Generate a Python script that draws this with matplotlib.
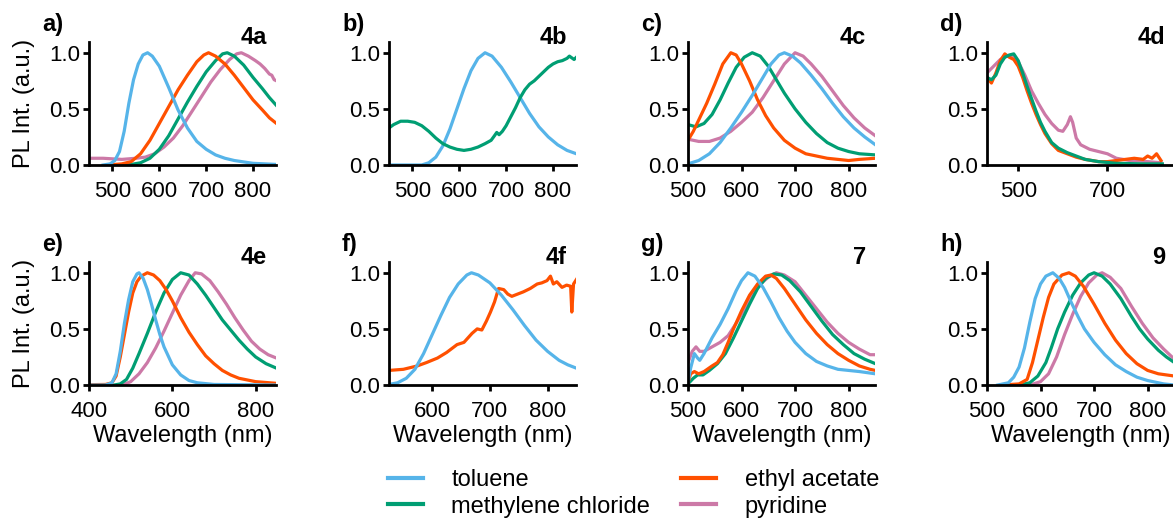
"""
PL spectra of the dyes in four solvents, panels a-h
"""

import numpy as np
import matplotlib.pyplot as plt
from matplotlib.lines import Line2D

plt.rcParams['font.family'] = ['Liberation Sans', 'DejaVu Sans']

# solvents and colours
solvents = ['toluene', 'methylene chloride', 'ethyl acetate', 'pyridine']
colors = ['#56B4E9', '#009E73', '#FF5000', '#CC79A7']

# panel letters, compound tags and x limits
letters = ['a)', 'b)', 'c)', 'd)', 'e)', 'f)', 'g)', 'h)']
tags = ['4a', '4b', '4c', '4d', '4e', '4f', '7', '9']
xlims = [(450, 850), (450, 850), (500, 850), (430, 850),
         (400, 850), (525, 850), (500, 850), (500, 850)]
xticks = [[500, 600, 700, 800], [500, 600, 700, 800], [500, 600, 700, 800], [500, 700],
          [400, 600, 800], [600, 700, 800], [500, 600, 700, 800], [500, 600, 700, 800]]

# ---- spectra: (wavelength nm, normalised PL) ----
# a) 4a
a_tol = [(480, 0.0), (495, 0.01), (505, 0.04), (515, 0.12), (525, 0.3), (535, 0.55), (545, 0.76),
         (555, 0.9), (565, 0.98), (575, 1.0), (585, 0.97), (600, 0.88), (620, 0.69), (640, 0.49),
         (660, 0.33), (680, 0.21), (700, 0.14), (720, 0.09), (740, 0.06), (760, 0.04), (800, 0.015),
         (850, 0.005)]
a_dcm = [(490, 0.0), (540, 0.005), (560, 0.02), (580, 0.06), (600, 0.14), (620, 0.26), (640, 0.41),
         (660, 0.56), (680, 0.7), (700, 0.83), (720, 0.93), (735, 0.99), (745, 1.0), (760, 0.97),
         (780, 0.89), (800, 0.78), (820, 0.68), (835, 0.6), (850, 0.53)]
a_eth = [(490, 0.0), (520, 0.01), (540, 0.03), (560, 0.1), (580, 0.22), (600, 0.37), (620, 0.52),
         (640, 0.67), (660, 0.8), (680, 0.92), (695, 0.98), (705, 1.0), (720, 0.97), (740, 0.9),
         (760, 0.8), (780, 0.69), (800, 0.58), (820, 0.49), (835, 0.42), (850, 0.37)]
a_pyr = [(450, 0.06), (480, 0.06), (520, 0.05), (550, 0.06), (570, 0.07), (590, 0.1), (610, 0.16),
         (630, 0.24), (650, 0.35), (670, 0.48), (690, 0.61), (710, 0.74), (730, 0.85), (750, 0.94),
         (765, 0.99), (775, 1.0), (790, 0.97), (805, 0.93), (815, 0.9), (825, 0.86), (835, 0.81),
         (840, 0.8), (845, 0.76), (850, 0.75)]

# b) 4b
b_tol = [(450, 0.0), (520, 0.0), (535, 0.02), (550, 0.07), (565, 0.17), (580, 0.32), (595, 0.5),
         (610, 0.68), (625, 0.84), (640, 0.95), (655, 1.0), (670, 0.97), (690, 0.87), (710, 0.74),
         (730, 0.6), (750, 0.46), (770, 0.34), (790, 0.25), (810, 0.18), (830, 0.13), (850, 0.1)]
b_dcm = [(450, 0.33), (460, 0.36), (475, 0.39), (490, 0.39), (505, 0.38), (520, 0.35), (535, 0.3),
         (550, 0.24), (565, 0.19), (580, 0.16), (595, 0.14), (610, 0.13), (625, 0.14), (640, 0.16),
         (655, 0.19), (668, 0.22), (675, 0.26), (680, 0.29), (685, 0.27), (692, 0.3), (700, 0.35),
         (710, 0.43), (720, 0.51), (730, 0.6), (740, 0.67), (750, 0.72), (760, 0.75), (770, 0.79),
         (780, 0.83), (790, 0.87), (800, 0.9), (810, 0.92), (820, 0.93), (830, 0.95), (835, 0.97),
         (845, 0.94), (850, 0.96)]

# c) 4c
c_tol = [(500, 0.01), (520, 0.04), (540, 0.1), (560, 0.2), (580, 0.33), (600, 0.47), (620, 0.62),
         (640, 0.78), (655, 0.9), (670, 0.98), (680, 1.0), (695, 0.97), (710, 0.91), (730, 0.8),
         (750, 0.68), (770, 0.55), (790, 0.43), (810, 0.33), (830, 0.25), (850, 0.18)]
c_dcm = [(500, 0.36), (515, 0.34), (530, 0.37), (545, 0.45), (560, 0.58), (575, 0.73), (590, 0.87),
         (605, 0.96), (620, 1.0), (635, 0.97), (650, 0.88), (665, 0.76), (680, 0.64), (700, 0.5),
         (720, 0.38), (740, 0.28), (760, 0.2), (780, 0.15), (800, 0.12), (820, 0.1), (850, 0.09)]
c_eth = [(500, 0.22), (510, 0.3), (520, 0.4), (535, 0.55), (550, 0.72), (565, 0.9), (580, 1.0),
         (590, 0.98), (600, 0.9), (615, 0.75), (630, 0.58), (645, 0.44), (660, 0.33), (680, 0.22),
         (700, 0.15), (720, 0.1), (740, 0.08), (760, 0.06), (780, 0.05), (800, 0.04), (820, 0.05),
         (850, 0.06)]
c_pyr = [(500, 0.23), (520, 0.21), (540, 0.21), (560, 0.24), (580, 0.3), (600, 0.38), (620, 0.47),
         (640, 0.6), (660, 0.75), (680, 0.9), (700, 1.0), (715, 0.97), (730, 0.9), (750, 0.79),
         (770, 0.66), (790, 0.53), (810, 0.42), (830, 0.33), (850, 0.26)]

# d) 4d
d_dcm = [(430, 0.78), (440, 0.76), (450, 0.8), (460, 0.9), (470, 0.96), (480, 0.98), (490, 0.99),
         (500, 0.93), (510, 0.82), (520, 0.7), (530, 0.59), (540, 0.48), (550, 0.38), (560, 0.3),
         (575, 0.2), (590, 0.15), (610, 0.11), (630, 0.08), (650, 0.05), (680, 0.03), (720, 0.015),
         (780, 0.01), (823, 0.01)]
d_eth = [(430, 0.78), (440, 0.73), (450, 0.82), (460, 0.93), (470, 0.99), (480, 0.96), (490, 0.94),
         (500, 0.88), (510, 0.78), (520, 0.66), (530, 0.55), (540, 0.45), (550, 0.36), (560, 0.28),
         (575, 0.19), (590, 0.13), (610, 0.1), (630, 0.07), (650, 0.05), (680, 0.03), (700, 0.03),
         (720, 0.04), (740, 0.05), (760, 0.06), (780, 0.05), (790, 0.08), (800, 0.06), (810, 0.1),
         (820, 0.04)]
d_pyr = [(430, 0.82), (445, 0.88), (460, 0.94), (475, 0.97), (490, 0.97), (500, 0.92), (515, 0.8),
         (530, 0.66), (545, 0.55), (560, 0.45), (575, 0.37), (590, 0.31), (600, 0.3), (610, 0.36),
         (617, 0.43), (622, 0.38), (630, 0.24), (640, 0.18), (660, 0.14), (680, 0.12), (700, 0.1),
         (720, 0.06), (750, 0.04), (790, 0.03), (820, 0.02)]

# e) 4e
e_tol = [(400, 0.0), (440, 0.0), (455, 0.02), (465, 0.1), (475, 0.3), (485, 0.55), (495, 0.76),
         (505, 0.92), (515, 0.99), (520, 1.0), (530, 0.95), (540, 0.85), (550, 0.72), (560, 0.58),
         (570, 0.45), (580, 0.34), (600, 0.18), (620, 0.09), (640, 0.04), (660, 0.02), (700, 0.005),
         (850, 0.0)]
e_dcm = [(460, 0.0), (475, 0.01), (490, 0.05), (505, 0.15), (520, 0.28), (540, 0.46), (560, 0.65),
         (580, 0.82), (600, 0.94), (620, 1.0), (640, 0.98), (660, 0.9), (680, 0.8), (700, 0.69),
         (720, 0.58), (740, 0.49), (760, 0.4), (780, 0.32), (800, 0.25), (825, 0.19), (850, 0.15)]
e_eth = [(400, 0.003), (440, 0.005), (455, 0.02), (465, 0.08), (475, 0.25), (485, 0.45), (495, 0.65),
         (505, 0.82), (515, 0.92), (525, 0.97), (540, 1.0), (555, 0.98), (570, 0.93), (585, 0.85),
         (600, 0.75), (620, 0.6), (640, 0.47), (660, 0.36), (680, 0.26), (700, 0.19), (720, 0.13),
         (740, 0.09), (760, 0.06), (800, 0.03), (850, 0.015)]
e_pyr = [(480, 0.0), (500, 0.03), (520, 0.1), (540, 0.2), (560, 0.33), (580, 0.48), (600, 0.64),
         (620, 0.8), (640, 0.93), (655, 1.0), (670, 0.99), (690, 0.93), (710, 0.83), (730, 0.72),
         (750, 0.6), (770, 0.49), (790, 0.39), (810, 0.32), (830, 0.27), (850, 0.24)]

# f) 4f
f_tol = [(525, 0.005), (540, 0.02), (555, 0.06), (570, 0.14), (585, 0.28), (600, 0.45), (615, 0.62),
         (630, 0.78), (645, 0.9), (660, 0.98), (668, 1.0), (680, 0.98), (700, 0.91), (720, 0.8),
         (740, 0.67), (760, 0.53), (780, 0.4), (800, 0.3), (820, 0.22), (835, 0.18), (850, 0.15)]
f_eth = [(525, 0.13), (550, 0.14), (574, 0.17), (590, 0.2), (609, 0.24), (625, 0.29), (643, 0.36),
         (655, 0.38), (669, 0.46), (678, 0.5), (686, 0.49), (694, 0.57), (701, 0.65), (708, 0.74),
         (715, 0.86), (724, 0.85), (731, 0.81), (738, 0.79), (748, 0.81), (758, 0.83), (770, 0.86),
         (782, 0.9), (790, 0.91), (799, 0.93), (805, 0.97), (810, 0.9), (816, 0.92), (825, 0.87),
         (833, 0.89), (840, 0.88), (842, 0.65), (845, 0.9), (850, 0.94)]

# g) 7
g_tol = [(500, 0.02), (505, 0.15), (512, 0.28), (518, 0.24), (522, 0.22), (530, 0.28), (545, 0.42),
         (560, 0.54), (575, 0.68), (590, 0.84), (600, 0.93), (612, 1.0), (625, 0.97), (640, 0.87),
         (655, 0.74), (670, 0.6), (685, 0.48), (700, 0.38), (720, 0.28), (740, 0.21), (760, 0.17),
         (780, 0.14), (800, 0.13), (820, 0.12), (850, 0.1)]
g_dcm = [(500, 0.01), (510, 0.06), (518, 0.09), (528, 0.09), (540, 0.13), (555, 0.19), (570, 0.28),
         (585, 0.42), (600, 0.57), (615, 0.72), (630, 0.86), (645, 0.95), (660, 0.99), (675, 0.98),
         (690, 0.93), (710, 0.83), (730, 0.7), (750, 0.57), (770, 0.45), (790, 0.36), (810, 0.28),
         (830, 0.23), (850, 0.19)]
g_eth = [(500, 0.02), (505, 0.1), (512, 0.12), (520, 0.1), (530, 0.12), (545, 0.17), (555, 0.2),
         (565, 0.27), (575, 0.38), (585, 0.5), (600, 0.66), (615, 0.8), (630, 0.9), (645, 0.97),
         (655, 0.98), (665, 0.95), (680, 0.86), (700, 0.72), (720, 0.58), (740, 0.46), (760, 0.36),
         (780, 0.28), (800, 0.22), (820, 0.17), (840, 0.14), (850, 0.13)]
g_pyr = [(500, 0.2), (508, 0.3), (515, 0.34), (522, 0.3), (530, 0.3), (545, 0.34), (560, 0.38),
         (575, 0.44), (590, 0.55), (605, 0.67), (620, 0.8), (635, 0.9), (650, 0.96), (665, 1.0),
         (680, 0.98), (700, 0.92), (720, 0.8), (740, 0.68), (760, 0.56), (780, 0.46), (800, 0.38),
         (820, 0.32), (840, 0.27), (850, 0.27)]

# h) 9
h_tol = [(520, 0.0), (540, 0.02), (550, 0.07), (560, 0.16), (570, 0.33), (580, 0.56), (590, 0.77),
         (600, 0.9), (610, 0.97), (623, 1.0), (635, 0.95), (645, 0.87), (657, 0.74), (670, 0.61),
         (682, 0.5), (700, 0.38), (720, 0.27), (740, 0.18), (760, 0.12), (780, 0.07), (800, 0.04),
         (830, 0.01), (850, 0.0)]
h_dcm = [(560, 0.0), (580, 0.02), (595, 0.08), (610, 0.2), (620, 0.33), (632, 0.5), (645, 0.65),
         (660, 0.8), (675, 0.91), (690, 0.98), (700, 1.0), (715, 0.97), (730, 0.9), (750, 0.77),
         (770, 0.61), (785, 0.5), (800, 0.41), (820, 0.31), (835, 0.25), (850, 0.2)]
h_eth = [(530, 0.0), (560, 0.01), (575, 0.05), (585, 0.2), (595, 0.4), (605, 0.6), (615, 0.78),
         (625, 0.9), (640, 0.98), (653, 1.0), (665, 0.97), (680, 0.88), (700, 0.72), (720, 0.55),
         (740, 0.4), (760, 0.28), (780, 0.19), (800, 0.13), (820, 0.1), (850, 0.08)]
h_pyr = [(580, 0.0), (600, 0.03), (615, 0.1), (630, 0.25), (645, 0.45), (660, 0.63), (675, 0.79),
         (690, 0.91), (705, 0.98), (715, 1.0), (730, 0.96), (750, 0.86), (770, 0.7), (790, 0.55),
         (810, 0.42), (830, 0.32), (850, 0.23)]

# curves per panel, in draw order (index into solvents)
panels = [
    [(3, a_pyr), (1, a_dcm), (2, a_eth), (0, a_tol)],
    [(0, b_tol), (1, b_dcm)],
    [(3, c_pyr), (1, c_dcm), (2, c_eth), (0, c_tol)],
    [(3, d_pyr), (2, d_eth), (1, d_dcm)],
    [(3, e_pyr), (1, e_dcm), (2, e_eth), (0, e_tol)],
    [(2, f_eth), (0, f_tol)],
    [(3, g_pyr), (1, g_dcm), (2, g_eth), (0, g_tol)],
    [(3, h_pyr), (1, h_dcm), (2, h_eth), (0, h_tol)],
]

fig = plt.figure(figsize=(11.73, 5.21), dpi=100)
lefts = [0.0759, 0.3316, 0.5865, 0.8414]
bottoms = [0.6833, 0.261]
w, h = 0.1598, 0.237

for i, curves in enumerate(panels):
    ax = fig.add_axes([lefts[i % 4], bottoms[i // 4], w, h])
    for k, pts in curves:
        arr = np.array(pts)
        ax.plot(arr[:, 0], arr[:, 1], color=colors[k], lw=2.3, solid_joinstyle='round')

    ax.set_xlim(*xlims[i])
    ax.set_ylim(0, 1.1)
    ax.set_xticks(xticks[i])
    ax.set_yticks([0, 0.5, 1.0])
    ax.set_yticklabels(['0.0', '0.5', '1.0'])
    for s in ['top', 'right']:
        ax.spines[s].set_visible(False)
    for s in ['left', 'bottom']:
        ax.spines[s].set_linewidth(2)
    ax.tick_params(axis='both', direction='out', length=4.5, width=2, labelsize=16)
    ax.tick_params(axis='x', pad=7)
    ax.tick_params(axis='y', pad=2)

    ax.text(-0.25, 1.14, letters[i], transform=ax.transAxes, fontsize=17,
            fontweight='bold', ha='left', va='center')
    ax.text(0.95, 1.03, tags[i], transform=ax.transAxes, fontsize=17,
            fontweight='bold', ha='right', va='center')

    if i % 4 == 0:
        ax.set_ylabel('PL Int. (a.u.)', fontsize=17)
        ax.yaxis.set_label_coords(-0.29, 0.5)
    if i >= 4:
        ax.set_xlabel('Wavelength (nm)', fontsize=17, labelpad=2)

handles = [Line2D([], [], color=c, lw=3) for c in colors]
fig.legend(handles, solvents, loc='center', bbox_to_anchor=(0.54, 0.053), ncol=2,
           frameon=False, fontsize=17, handlelength=1.5, handletextpad=1.2,
           columnspacing=1.3, labelspacing=0.2)

plt.savefig('out.png', dpi=100)
